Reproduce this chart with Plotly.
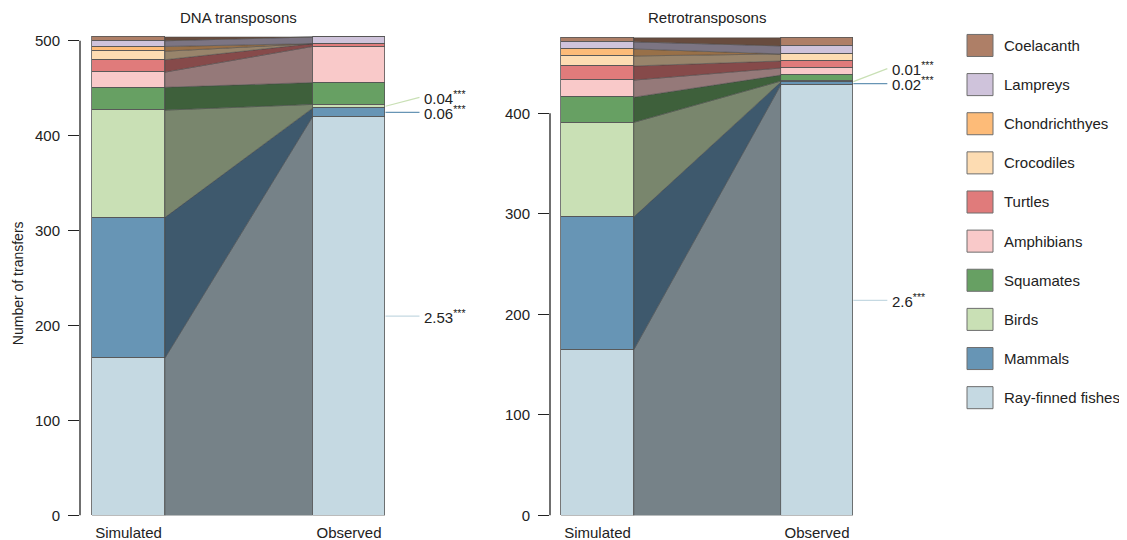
import numpy as np
import plotly.graph_objects as go

# ---------------- data ----------------
categories = ["Ray-finned fishes", "Mammals", "Birds", "Squamates", "Amphibians",
              "Turtles", "Crocodiles", "Chondrichthyes", "Lampreys", "Coelacanth"]
colors = ["#c5d9e2", "#6795b5", "#c9e0b5", "#67a063", "#f9c9c9",
          "#e07b7b", "#fddcb2", "#fdbb78", "#cfc3db", "#ae7f67"]
bar_labels = ["Simulated", "Observed"]

dna_sim = [166, 148, 113, 24, 16, 13, 9, 5, 6, 4]
dna_obs = [420, 9, 4, 23, 38, 3, 0, 0, 7, 0]
retro_sim = [165, 132, 94, 25, 17, 14, 10, 7, 7, 4]
retro_obs = [428, 3, 1, 6, 7, 7, 7, 0, 8, 8]

dna_ratio_labels = ["2.53", "0.06", "0.04"]      # fishes, mammals, birds
retro_ratio_labels = ["2.6", "0.02", "0.01"]

panel_titles = ["DNA transposons", "Retrotransposons"]
y_ticks = [[0, 100, 200, 300, 400, 500], [0, 100, 200, 300, 400]]

# ---------------- layout helpers ----------------
W, H = 1127, 540
X_OFF = 8                      # page offset (horizontal)
Y_SCALE, Y_OFF = 0.978, 11.3   # page offset / scaling (vertical)
FONT = "Liberation Sans, Arial, Helvetica, sans-serif"
PLOT_TOP, PLOT_BOT = 35, 515
BAR_W = 0.331


def px_x(p):
    return (p - X_OFF) / W


def px_y(p):
    return 1 - ((p - Y_OFF) / Y_SCALE) / H


def darken(hexc, f=0.6):
    h = hexc.lstrip("#")
    r, g, b = (int(h[i:i + 2], 16) for i in (0, 2, 4))
    return "rgb(%d,%d,%d)" % (round(r * f), round(g * f), round(b * f))


panels = [
    dict(sim=dna_sim, obs=dna_obs, labels=dna_ratio_labels, title=panel_titles[0],
         ticks=y_ticks[0], left=80, right=480, c0=128.5, step=220.5, scale=0.948),
    dict(sim=retro_sim, obs=retro_obs, labels=retro_ratio_labels, title=panel_titles[1],
         ticks=y_ticks[1], left=550, right=950, c0=597.5, step=219.5, scale=1.004),
]

fig = go.Figure()
annotations = []
shapes = []

for pi, p in enumerate(panels):
    xa = "x" if pi == 0 else "x2"
    ya = "y" if pi == 0 else "y2"
    sim = np.array(p["sim"], dtype=float)
    obs = np.array(p["obs"], dtype=float)
    s_top = np.cumsum(sim)
    s_bot = s_top - sim
    o_top = np.cumsum(obs)
    o_bot = o_top - obs
    xa0, xb0 = BAR_W / 2, 1 - BAR_W / 2

    # flows
    for i, cat in enumerate(categories):
        fig.add_trace(go.Scatter(
            x=[xa0, xa0, xb0, xb0, xa0],
            y=[s_bot[i], s_top[i], o_top[i], o_bot[i], s_bot[i]],
            fill="toself", fillcolor=darken(colors[i]), mode="lines",
            line=dict(color="rgba(70,70,70,0.8)", width=0.6),
            hoverinfo="skip", showlegend=False, xaxis=xa, yaxis=ya))

    # stacked bars
    for i, cat in enumerate(categories):
        fig.add_trace(go.Bar(
            x=[0, 1], y=[sim[i], obs[i]], width=BAR_W, name=cat,
            marker=dict(color=colors[i], line=dict(color="#555555", width=0.8)),
            showlegend=False, xaxis=xa, yaxis=ya))

    # ratio leader lines + labels (fishes, mammals, birds)
    x_edge = 1 + BAR_W / 2
    x_end = x_edge + 34 / p["step"]
    mids = (o_bot[:3] + o_top[:3]) / 2
    label_y = [mids[0], mids[1], mids[1] + 15 / p["scale"]]
    for k in range(3):
        fig.add_trace(go.Scatter(
            x=[x_edge, x_end], y=[mids[k], label_y[k]], mode="lines",
            line=dict(color=colors[k], width=1.2), hoverinfo="skip",
            showlegend=False, xaxis=xa, yaxis=ya))
        annotations.append(dict(
            x=x_end + 3 / p["step"], y=label_y[k], xref=xa, yref=ya,
            text=p["labels"][k] + "<sup>***</sup>", showarrow=False,
            xanchor="left", yanchor="middle",
            font=dict(family=FONT, size=15, color="#222222")))

    # axis line only over tick range
    shapes.append(dict(type="line", xref=xa + " domain", yref=ya, x0=0, x1=0,
                       y0=p["ticks"][0], y1=p["ticks"][-1],
                       line=dict(color="#222222", width=1.3)))

    # panel title
    annotations.append(dict(
        x=px_x(p["c0"] + p["step"] / 2), y=px_y(18), xref="paper", yref="paper",
        text=p["title"], showarrow=False, xanchor="center", yanchor="middle",
        font=dict(family=FONT, size=15, color="#222222")))

    xmin = (p["left"] - p["c0"]) / p["step"]
    xmax = (p["right"] - p["c0"]) / p["step"]
    ymax = (PLOT_BOT - PLOT_TOP) / p["scale"]
    suffix = "" if pi == 0 else "2"
    fig.update_layout(**{
        "xaxis" + suffix: dict(
            domain=[px_x(p["left"]), px_x(p["right"])], range=[xmin, xmax],
            tickvals=[0, 1], ticktext=bar_labels, showgrid=False, zeroline=False,
            showline=False, ticks="", ticklabelstandoff=6,
            tickfont=dict(family=FONT, size=15, color="#222222"), anchor=ya),
        "yaxis" + suffix: dict(
            domain=[px_y(PLOT_BOT), px_y(PLOT_TOP)], range=[0, ymax],
            tickvals=p["ticks"], showgrid=False, zeroline=False, showline=False,
            ticks="outside", ticklen=11, tickwidth=1.3, tickcolor="#222222",
            ticklabelstandoff=5,
            tickfont=dict(family=FONT, size=15, color="#222222"), anchor=xa),
    })

# y-axis title
annotations.append(dict(
    x=px_x(18), y=px_y(283), xref="paper", yref="paper", text="Number of transfers",
    textangle=-90, showarrow=False, xanchor="center", yanchor="middle",
    font=dict(family=FONT, size=14, color="#222222")))

# manual legend (top: Coelacanth ... bottom: Ray-finned fishes)
for k, i in enumerate(range(len(categories) - 1, -1, -1)):
    yc = 45.7 + 39.07 * k
    shapes.append(dict(type="rect", xref="paper", yref="paper",
                       x0=px_x(967), x1=px_x(993), y0=px_y(yc + 11), y1=px_y(yc - 11),
                       fillcolor=colors[i], line=dict(color="#6e6e6e", width=1)))
    annotations.append(dict(
        x=px_x(1002), y=px_y(yc), xref="paper", yref="paper", text=categories[i],
        showarrow=False, xanchor="left", yanchor="middle",
        font=dict(family=FONT, size=15, color="#222222")))

fig.update_layout(
    width=W, height=H, autosize=False, margin=dict(l=0, r=0, t=0, b=0),
    barmode="stack", bargap=0, plot_bgcolor="white", paper_bgcolor="white",
    showlegend=False, annotations=annotations, shapes=shapes,
    font=dict(family=FONT, color="#222222"))

fig.write_html("out.html")
